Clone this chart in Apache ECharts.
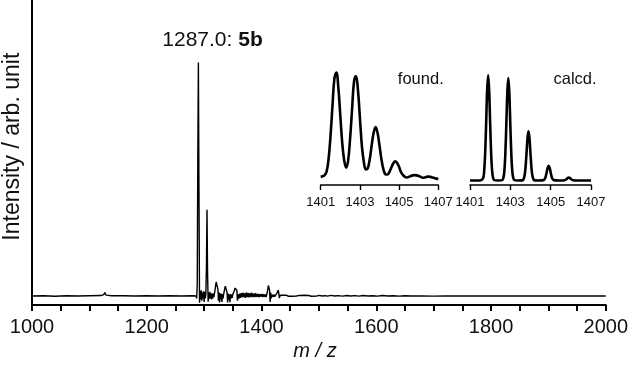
<!DOCTYPE html>
<html><head><meta charset="utf-8">
<script src="https://cdn.jsdelivr.net/npm/echarts@6/dist/echarts.min.js"></script>
<style>html,body{margin:0;padding:0;background:#fff}#c{width:631px;height:366px}</style>
</head><body><div id="c"></div>
<script>
const FONT = '"Liberation Sans", Arial, Helvetica, sans-serif';

// ---- tick labels ----
const mainTickLabels = [1000, 1200, 1400, 1600, 1800, 2000];
const insetTickLabels = [1401, 1403, 1405, 1407];

// ---- texts ----
const yTitle = 'Intensity / arb. unit';
const xTitle = 'm / z';
const peakMass = '1287.0: ';
const compoundName = '5b';
const foundLabel = 'found.';
const calcdLabel = 'calcd.';

// ---- full spectrum: [m/z, intensity] ----
const fullSpectrum = [
  [1000,0],[1020,0.1],[1040,-0.1],[1060,0.1],[1080,0],[1100,0.1],[1120,0.2],[1125,0.6],[1127,1.5],[1129,0.4],
  [1132,0.1],[1139,0.1],[1141,0.6],[1143,0.1],[1160,0.1],[1180,0],[1200,0.1],[1220,0],[1240,0.1],[1260,0],
  [1280,0.1],[1286,0],[1287,-1],[1288,5],[1289,60],[1290,100],[1291,45],[1292,-2.9],[1293,2],[1294,-1.5],
  [1295,2.5],[1296,-2],[1297,1.5],[1298,-1],[1299,2],[1300,-2.5],[1301,1.8],[1302,-1],[1303,0.8],[1304,12],
  [1305,37],[1306,10],[1307,-2.4],[1308,1.5],[1309,-1.2],[1310,1.8],[1311,-1],[1312,1],[1313,-1.5],[1314,1.2],
  [1315,-1],[1316,1],[1317,-0.5],[1318,1],[1319,2.5],[1320,4.5],[1321,6],[1322,6.5],[1323,5.5],[1324,3],
  [1325,-2],[1326,1.5],[1327,-2.8],[1328,1.2],[1329,-1.5],[1330,1],[1331,-2.5],[1332,0.8],[1333,-1],[1334,0.8],
  [1335,2],[1336,3.3],[1337,4.2],[1338,4.4],[1339,3.5],[1340,1.5],[1341,-2.8],[1342,1],[1343,-1.5],[1344,0.6],
  [1345,-2.6],[1346,0.8],[1347,-1],[1348,0.6],[1349,-0.8],[1350,0.8],[1352,1.8],[1354,3.4],[1355.5,3.7],[1357,2.5],
  [1358,-2],[1359,0.8],[1360,-1.2],[1362,1],[1363,-0.8],[1365,1.3],[1366,-0.6],[1368,1.4],[1369,-0.5],[1371,1.2],
  [1372,-0.8],[1374,1.5],[1375,-0.5],[1377,1.3],[1378,-0.6],[1380,1.2],[1381,-0.5],[1383,1.4],[1384,-0.4],[1386,1.0],
  [1387,-0.5],[1389,1.2],[1390,-0.4],[1392,1.0],[1393,-0.4],[1395,0.9],[1396,-0.5],[1398,0.8],[1399,-0.3],[1401,0.9],
  [1402,-0.4],[1404,0.7],[1405,-0.3],[1407,0.7],[1408,-0.5],[1410,1.5],[1411,3],[1412,4.5],[1413,4.7],[1414,2.5],
  [1415,-2.5],[1416,1.5],[1417,-1],[1419,0.6],[1420,-0.3],[1422,0.6],[1423,-0.3],[1425,0.5],[1427,1.2],[1429,2.5],
  [1430,1.5],[1431,-0.8],[1433,0.4],[1435,-0.2],[1438,0.3],[1440,-0.1],[1443,0.35],[1447,-0.1],[1449,0.2],[1454,-0.1],
  [1457,0.35],[1461,0],[1466,0.25],[1469,-0.1],[1475,0.3],[1478,0],[1482,0.2],[1487,-0.1],[1490,0.15],[1496,-0.05],
  [1500,0.3],[1506,0],[1511,0.15],[1515,-0.05],[1521,0.25],[1528,0],[1533,0.15],[1541,-0.05],[1549,0.2],[1555,0],
  [1563,0.15],[1570,-0.05],[1577,0.2],[1586,0],[1594,0.12],[1602,-0.05],[1611,0.2],[1620,0],[1630,0.1],[1640,-0.05],
  [1650,0.12],[1660,0],[1663,0.5],[1666,0],[1680,0.05],[1700,-0.05],[1702,0.25],[1720,0],[1750,0.05],[1780,0],
  [1800,0.05],[1850,0],[1900,0.05],[1950,0],[2000,0]
];

// ---- inset: found isotope pattern ----
const foundSpectrum = [
  [1401.0,7],[1401.1,7.5],[1401.2,8.5],[1401.3,11.5],[1401.4,22],[1401.5,42],[1401.6,68],[1401.7,92],[1401.8,97],[1401.9,84],
  [1402.0,60],[1402.1,36],[1402.2,21],[1402.3,15],[1402.4,21],[1402.5,40],[1402.6,65],[1402.7,89],[1402.8,94],[1402.9,82],
  [1403.0,58],[1403.1,34],[1403.2,20],[1403.3,13.5],[1403.4,14.5],[1403.5,22],[1403.6,34],[1403.7,45],[1403.8,50],[1403.9,45],
  [1404.0,34],[1404.1,22],[1404.2,13.5],[1404.3,9.3],[1404.4,9],[1404.5,11],[1404.6,15],[1404.7,18.5],[1404.8,20.5],[1404.9,19],
  [1405.0,15.5],[1405.1,11],[1405.2,8.5],[1405.3,7],[1405.4,6.5],[1405.5,7],[1405.6,7.8],[1405.7,8.3],[1405.8,8.5],[1405.9,8.3],
  [1406.0,7.8],[1406.1,7],[1406.2,6.3],[1406.3,6.5],[1406.4,7],[1406.5,7.2],[1406.6,7],[1406.7,6.5],[1406.8,6],[1406.9,5.5],
  [1407.0,5.3]
];

// ---- inset: calculated isotope pattern ----
const calcdSpectrum = [
  [1401.0,3.9],[1401.5,3.9],[1401.65,5.8],[1401.7,11.6],[1401.75,26.5],[1401.8,52.9],[1401.85,81.6],[1401.9,94.6],[1401.95,81.6],[1402.0,52.9],
  [1402.05,26.5],[1402.1,11.6],[1402.15,5.8],[1402.2,4.2],[1402.4,3.9],[1402.6,4.2],[1402.65,5.8],[1402.7,11.4],[1402.75,25.9],[1402.8,51.6],
  [1402.85,79.7],[1402.9,92.3],[1402.95,79.7],[1403.0,51.6],[1403.05,25.9],[1403.1,11.4],[1403.15,5.8],[1403.2,4.2],[1403.4,3.9],[1403.6,4.0],
  [1403.65,4.8],[1403.7,7.5],[1403.75,14.4],[1403.8,26.7],[1403.85,40.2],[1403.9,46.2],[1403.95,40.2],[1404.0,26.7],[1404.05,14.4],[1404.1,7.5],
  [1404.15,4.8],[1404.2,4.0],[1404.4,3.9],[1404.65,4.2],[1404.7,5],[1404.75,7.1],[1404.8,10.8],[1404.85,14.8],[1404.9,16.6],[1404.95,14.8],
  [1405.0,10.8],[1405.05,7.1],[1405.1,5],[1405.15,4.2],[1405.4,3.9],[1405.7,4.1],[1405.8,5.3],[1405.9,6.5],[1406.0,5.3],[1406.1,4.1],
  [1406.4,3.9],[1407.0,3.9]
];

const TXT = '#111';
const chart = echarts.init(document.getElementById('c'), null, {renderer: 'canvas'});

function insetX(gi) {
  return {
    type: 'value', gridIndex: gi, min: 1401, max: 1407, interval: 2,
    axisLine: {show: true, onZero: false, lineStyle: {color: '#000', width: 1.6}},
    axisTick: {show: true, length: 5, lineStyle: {color: '#000', width: 1.4}},
    axisLabel: {show: true, margin: 11, color: TXT, fontSize: 13, fontFamily: FONT,
      formatter: v => insetTickLabels.includes(Math.round(v)) ? String(Math.round(v)) : ''},
    splitLine: {show: false}
  };
}
function insetY(gi) {
  return {type: 'value', gridIndex: gi, min: 0, max: 100, show: false, splitLine: {show: false}};
}

chart.setOption({
  animation: false,
  backgroundColor: '#fff',
  grid: [
    {left: 32, right: 23.3, top: 0, bottom: 61},
    {left: 320.7, top: 69, width: 117.6, height: 116},
    {left: 470, top: 69, width: 121, height: 116}
  ],
  xAxis: [
    {
      type: 'value', gridIndex: 0, min: 1000, max: 2000, interval: 50,
      axisLine: {show: true, onZero: false, lineStyle: {color: '#000', width: 2}},
      axisTick: {show: true, length: 6, lineStyle: {color: '#000', width: 2}},
      axisLabel: {show: true, margin: 12, color: TXT, fontSize: 20, fontFamily: FONT,
        formatter: v => mainTickLabels.includes(v) ? String(v) : ''},
      splitLine: {show: false}
    },
    insetX(1), insetX(2)
  ],
  yAxis: [
    {
      type: 'value', gridIndex: 0, min: -3.85, max: 126.8,
      axisLine: {show: true, onZero: false, lineStyle: {color: '#000', width: 2}},
      axisTick: {show: false}, axisLabel: {show: false}, splitLine: {show: false}
    },
    insetY(1), insetY(2)
  ],
  series: [
    {type: 'line', xAxisIndex: 0, yAxisIndex: 0, data: fullSpectrum, showSymbol: false, symbol: 'none',
      lineStyle: {color: '#000', width: 1.4}},
    {type: 'line', xAxisIndex: 1, yAxisIndex: 1, data: foundSpectrum, showSymbol: false, symbol: 'none',
      smooth: 0.4, lineStyle: {color: '#000', width: 2.6}},
    {type: 'line', xAxisIndex: 2, yAxisIndex: 2, data: calcdSpectrum, showSymbol: false, symbol: 'none',
      smooth: 0.3, lineStyle: {color: '#000', width: 2.6}}
  ],
  graphic: [
    {type: 'text', x: 12.7, y: 146.7, rotation: Math.PI / 2,
      style: {text: yTitle, font: '23px ' + FONT, fill: TXT, align: 'center', verticalAlign: 'middle'}},
    {type: 'text', x: 315, y: 351.3,
      style: {text: xTitle, font: 'italic 20px ' + FONT, fill: TXT, align: 'center', verticalAlign: 'middle'}},
    {type: 'text', x: 212.5, y: 40.6,
      style: {text: '{a|' + peakMass + '}{b|' + compoundName + '}', font: '21px ' + FONT, fill: TXT,
        align: 'center', verticalAlign: 'middle',
        rich: {a: {fontSize: 21, fontFamily: FONT, fill: TXT}, b: {fontSize: 21, fontFamily: FONT, fontWeight: 'bold', fill: TXT}}}},
    {type: 'text', x: 420.8, y: 79,
      style: {text: foundLabel, font: '16.5px ' + FONT, fill: TXT, align: 'center', verticalAlign: 'middle'}},
    {type: 'text', x: 575, y: 79,
      style: {text: calcdLabel, font: '16.5px ' + FONT, fill: TXT, align: 'center', verticalAlign: 'middle'}}
  ]
});
</script>
</body></html>
